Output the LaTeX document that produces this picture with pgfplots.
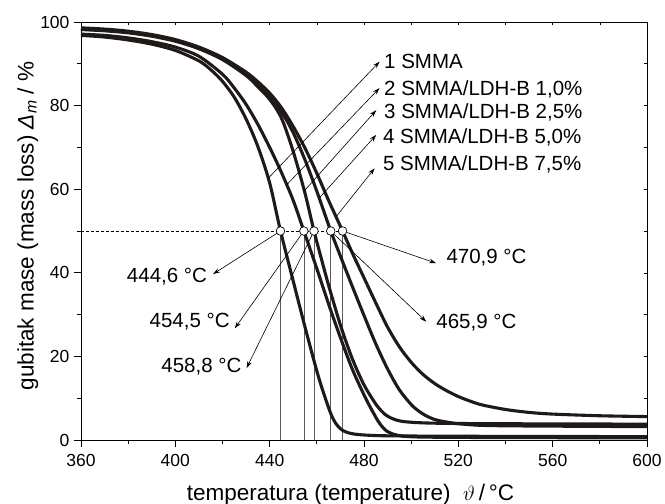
\documentclass[border=0pt]{standalone}
\usepackage{fontspec}
\setmainfont{Liberation Sans}
\usepackage{pgfplots}
\pgfplotsset{compat=1.18}
\usetikzlibrary{arrows.meta}

\definecolor{crv}{HTML}{1F1A17}

\begin{document}
\begin{tikzpicture}
\useasboundingbox (-81pt,-64pt) rectangle (584pt,440pt);
\begin{axis}[
  at={(0,0)}, anchor=south west,
  scale only axis, width=566pt, height=418pt,
  xmin=360, xmax=600, ymin=0, ymax=100,
  xtick={360,400,...,600}, ytick={0,20,...,100},
  minor x tick num=1, minor y tick num=1,
  tick align=outside, tick pos=left,
  major tick length=7pt, minor tick length=4pt,
  every tick/.style={black, line width=0.8pt},
  axis line style={line width=0.9pt, black},
  /pgf/number format/assume math mode=true,
  tick label style={font=\fontsize{17.5}{20}\selectfont},
  xticklabel style={yshift=-4pt},
  yticklabel style={xshift=-1pt},
  xlabel={temperatura (temperature)\ \ $\vartheta$\,/\,°C},
  xlabel style={at={(axis description cs:0.4761,0)}, anchor=base, yshift=-60.5pt, font=\fontsize{22.5}{26}\selectfont},
  ylabel={gubitak mase (mass loss)\ \textit{Δ}\textsubscript{\textit{m}} / \%},
  ylabel style={at={(axis description cs:-0.0839,0.512)}, anchor=base, font=\fontsize{22.5}{26}\selectfont},
  clip=false,
]
% reference lines
\addplot[densely dashed, line width=0.6pt, black] coordinates {(360,50) (470.9,50)};
\addplot[ycomb, line width=0.7pt, gray!70!black] coordinates {(444.6,50) (454.5,50) (458.8,50) (465.9,50) (470.9,50)};

% curve 1 SMMA
\addplot[crv, line width=3.1pt, smooth, tension=0.5] coordinates {
(360,96.8) (370,96.4) (380,95.7) (390,94.7) (400,93.2) (410,90.7) (415,88.6) (420,85.8)
(425,82.0) (430,76.8) (435,70.2) (440,61.5) (444.6,50.0) (450,38.0) (455,27.0) (460,16.5)
(463,11.0) (466,6.2) (468,4.0) (470,2.7) (472,2.0) (475,1.5) (480,1.2) (490,1.0)
(520,0.9) (560,0.85) (600,0.8)};
% curve 2
\addplot[crv, line width=3.1pt, smooth, tension=0.5] coordinates {
(360,97.1) (370,96.8) (380,96.2) (390,95.3) (400,94.0) (410,91.8) (420,87.5) (425,84.2)
(430,80.3) (435,75.5) (440,70.0) (445,64.0) (450,57.3) (454.5,50.0) (460,41.0)
(465,32.5) (470,24.5) (475,17.0) (480,10.8) (483,7.5) (486,4.5) (488,3.0) (490,2.0)
(493,1.3) (497,0.9) (505,0.7) (530,0.6) (600,0.5)};
% curve 3
\addplot[crv, line width=3.1pt, smooth, tension=0.5] coordinates {
(360,98.2) (370,97.9) (380,97.4) (390,96.6) (400,95.4) (410,93.6) (420,91.0) (430,87.2)
(435,84.5) (440,81.5) (445,77.0) (450,69.0) (455,59.0) (458.8,50.0) (462,43.2)
(465,37.0) (470,27.5) (475,19.5) (480,13.2) (485,8.6) (488,6.6) (490,5.7) (493,4.9)
(497,4.4) (505,4.1) (520,3.95) (560,3.85) (600,3.8)};
% curve 4
\addplot[crv, line width=3.1pt, smooth, tension=0.5] coordinates {
(360,98.3) (370,98.0) (380,97.6) (390,96.8) (400,95.6) (410,93.8) (420,91.2) (430,87.5)
(435,85.0) (440,82.3) (445,78.5) (450,73.5) (455,67.0) (460,59.5) (465.9,50.0)
(470,44.0) (475,36.8) (480,29.8) (485,23.0) (490,17.0) (495,12.0) (500,8.5) (503,7.0)
(506,5.9) (510,4.9) (515,4.3) (520,3.9) (530,3.5) (550,3.35) (600,3.2)};
% curve 5
\addplot[crv, line width=3.1pt, smooth, tension=0.5] coordinates {
(360,98.6) (370,98.3) (380,97.8) (390,97.0) (400,95.8) (410,94.0) (420,91.5) (430,88.0)
(435,85.7) (440,83.0) (445,79.5) (450,75.0) (455,69.8) (460,63.8) (465,57.3)
(470.9,50.0) (475,44.8) (480,38.8) (485,32.8) (490,27.0) (495,22.3) (500,18.6) (505,15.7)
(510,13.5) (515,11.8) (520,10.4) (525,9.3) (530,8.4) (540,7.3) (550,6.6) (560,6.2)
(580,5.8) (600,5.6)};

% arrows from curves to series labels
\tikzset{arr/.style={line width=0.6pt, black, -{Stealth[length=7pt,width=4.5pt]}}}
\draw[arr] (axis cs:439.2,62.5) -- (axis cs:486.6,90.5);
\draw[arr] (axis cs:447.1,61.0) -- (axis cs:486.6,84.2);
\draw[arr] (axis cs:454.5,59.5) -- (axis cs:485.2,78.9);
\draw[arr] (axis cs:461.2,58.0) -- (axis cs:485.2,73.0);
\draw[arr] (axis cs:468.3,53.5) -- (axis cs:484.5,65.0);

\tikzset{lab/.style={font=\fontsize{20.5}{24}\selectfont, inner sep=0pt}}
\node[lab, anchor=base west] at (axis cs:488.5,88.9) {1 SMMA};
\node[lab, anchor=base west] at (axis cs:488.5,82.5) {2 SMMA/LDH-B 1,0\%};
\node[lab, anchor=base west] at (axis cs:488.5,76.8) {3 SMMA/LDH-B 2,5\%};
\node[lab, anchor=base west] at (axis cs:488.0,71.0) {4 SMMA/LDH-B 5,0\%};
\node[lab, anchor=base west] at (axis cs:488.0,64.4) {5 SMMA/LDH-B 7,5\%};

% arrows from circles to temperature labels
\draw[arr, shorten <=4.3pt] (axis cs:444.6,50) -- (axis cs:416.0,39.7);
\draw[arr, shorten <=4.3pt] (axis cs:454.5,50) -- (axis cs:425.2,26.7);
\draw[arr, shorten <=4.3pt] (axis cs:458.8,50) -- (axis cs:430.2,17.2);
\draw[arr, shorten <=4.3pt] (axis cs:470.9,50) -- (axis cs:510.6,42.3);
\draw[arr, shorten <=4.3pt] (axis cs:465.9,50) -- (axis cs:506.4,28.3);

\node[lab, anchor=base east] at (axis cs:413.5,37.7) {444,6 °C};
\node[lab, anchor=base east] at (axis cs:423.1,27.0) {454,5 °C};
\node[lab, anchor=base east] at (axis cs:428.1,16.2) {458,8 °C};
\node[lab, anchor=base west] at (axis cs:514.9,42.3) {470,9 °C};
\node[lab, anchor=base west] at (axis cs:510.6,26.7) {465,9 °C};

% circles
\addplot[only marks, mark=*, mark size=4.3pt, mark options={fill=white, draw=black, line width=0.7pt}]
  coordinates {(444.6,50) (454.5,50) (458.8,50) (465.9,50) (470.9,50)};
\end{axis}
% mirrored ticks on top and right
\begin{axis}[
  at={(0,0)}, anchor=south west,
  scale only axis, width=566pt, height=418pt,
  xmin=360, xmax=600, ymin=0, ymax=100,
  xtick={360,400,...,600}, ytick={0,20,...,100},
  minor x tick num=1, minor y tick num=1,
  tick align=inside, tick pos=right,
  major tick length=3pt, minor tick length=3pt,
  every tick/.style={black, line width=0.6pt},
  xticklabels={}, yticklabels={},
  axis line style={draw=none},
]
\end{axis}
\end{tikzpicture}
\end{document}
